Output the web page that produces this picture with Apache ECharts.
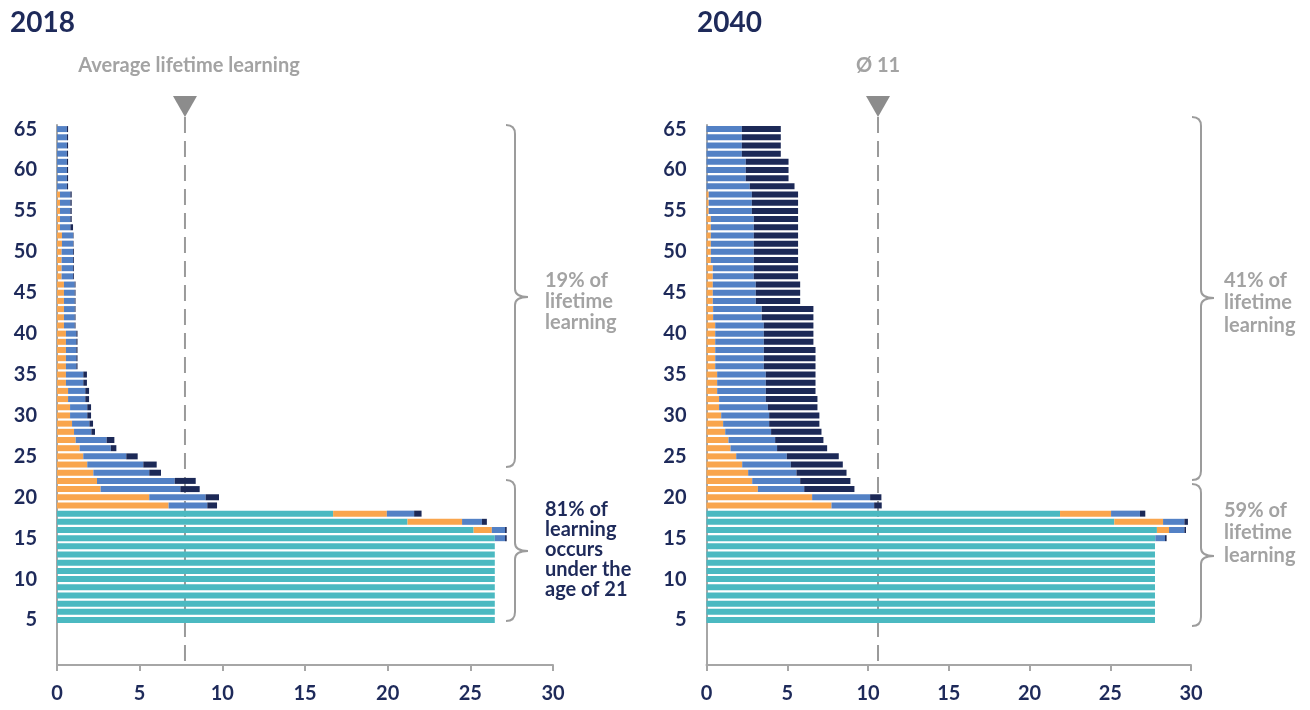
<!DOCTYPE html>
<html><head><meta charset="utf-8">
<script src="https://cdn.jsdelivr.net/npm/echarts@6/dist/echarts.min.js"></script>
<style>html,body{margin:0;padding:0;background:#fff}#c{width:1310px;height:710px}</style>
</head><body><div id="c"></div>
<script>
// ---------------- DATA ----------------
const emptyAges = ['0','1','2','3','4'];
const ages = ['5','6','7','8','9','10','11','12','13','14','15','16','17','18','19','20',
  '21','22','23','24','25','26','27','28','29','30','31','32','33','34','35','36','37','38','39','40',
  '41','42','43','44','45','46','47','48','49','50','51','52','53','54','55','56','57','58','59','60',
  '61','62','63','64','65'];
const yTickLabels = ['5','10','15','20','25','30','35','40','45','50','55','60','65'];
const xTickLabels = [0,5,10,15,20,25,30];

// 2018 segment lengths, ages 5..65
const teal2018 = [26.48,26.48,26.48,26.48,26.48,26.48,26.48,26.48,26.48,26.48,
  26.48,25.2,21.2,16.7,
  0,0,0,0,0,0,0,0,0,0,0,0,0,0,0,0,0,0,0,0,0,0,0,0,0,0,0,0,0,0,0,0,0,0,0,0,0,0,0,0,0,0,0,0,0,0,0];
const orange2018 = [0,0,0,0,0,0,0,0,0,0,
  0,1.1,3.3,3.25,6.75,5.58,2.64,2.42,2.2,1.83,1.59,1.37,1.13,1.03,0.91,0.79,0.79,0.67,0.67,0.54,0.54,
  0.54,0.54,0.54,0.54,0.54,
  0.42,0.42,0.42,0.42,0.42,0.42,
  0.28,0.28,0.28,0.28,
  0.3,0.3,
  0.18,
  0.18,0.18,0.18,0.18,
  0,0,0,0,0,0,0,0];
const blue2018 = [0,0,0,0,0,0,0,0,0,0,
  0.62,0.8,1.2,1.65,2.34,3.41,4.82,4.7,3.38,3.39,2.6,1.88,1.87,1.05,1.05,1.04,1.04,1.04,1.04,1.05,1.05,
  0.63,0.63,0.63,0.63,0.63,
  0.65,0.65,0.65,0.65,0.65,0.65,
  0.69,0.69,0.69,0.69,
  0.67,0.67,
  0.63,
  0.63,0.63,0.63,0.63,
  0.6,0.6,0.6,0.6,0.6,0.6,0.6,0.6];
const navy2018 = [0,0,0,0,0,0,0,0,0,0,
  0.1,0.1,0.3,0.45,0.59,0.81,1.17,1.27,0.71,0.81,0.69,0.34,0.47,0.22,0.22,0.23,0.23,0.23,0.23,0.22,0.22,
  0.07,0.07,0.07,0.07,0.07,
  0.05,0.05,0.05,0.05,0.05,0.05,
  0.05,0.05,0.05,0.05,
  0.03,0.03,
  0.16,
  0.08,0.08,0.08,0.08,
  0.07,0.07,0.07,0.07,0.07,0.07,0.07,0.07];

// 2040 segment lengths, ages 5..65
const teal2040 = [27.77,27.77,27.77,27.77,27.77,27.77,27.77,27.77,27.77,27.77,
  27.79,27.89,25.25,21.89,
  0,0,0,0,0,0,0,0,0,0,0,0,0,0,0,0,0,0,0,0,0,0,0,0,0,0,0,0,0,0,0,0,0,0,0,0,0,0,0,0,0,0,0,0,0,0,0];
const orange2040 = [0,0,0,0,0,0,0,0,0,0,
  0,0.75,3.02,3.16,7.74,6.54,3.18,2.83,2.58,2.21,1.84,1.49,1.36,1.16,1.03,0.91,0.78,0.78,0.66,0.66,0.66,
  0.54,0.54,0.54,0.54,0.54,0.54,0.41,0.41,0.39,0.39,0.39,0.39,0.39,
  0.27,0.27,0.27,0.27,0.27,0.27,
  0.14,0.14,0.14,
  0,0,0,0,0,0,0,0];
const blue2040 = [0,0,0,0,0,0,0,0,0,0,
  0.6,0.95,1.32,1.79,2.64,3.59,2.87,2.97,2.99,3.01,3.13,2.88,2.89,2.84,2.85,2.97,3.02,2.89,3.01,3.01,3.01,
  3.01,3.01,3.01,3.01,3.01,3.01,3.01,3.01,
  2.66,2.66,2.66,
  2.54,2.54,
  2.66,2.66,2.66,2.66,2.66,2.66,
  2.67,2.67,2.67,
  2.68,
  2.43,2.43,2.43,
  2.19,2.19,2.19,2.19];
const navy2040 = [0,0,0,0,0,0,0,0,0,0,
  0.1,0.1,0.22,0.33,0.47,0.7,3.11,3.11,3.1,3.22,3.22,3.1,2.99,3.12,3.11,3.11,3.07,3.2,3.08,3.08,3.08,
  3.2,3.2,3.2,3.07,3.07,3.07,3.2,3.2,
  2.75,2.75,2.75,
  2.74,2.74,
  2.74,2.74,2.74,2.74,2.74,2.74,
  2.86,2.86,2.86,
  2.77,
  2.65,2.65,2.65,
  2.41,2.41,2.41,2.41];

const avg2018 = 7.74;
const avg2040 = 10.62;

// ---------------- STYLE ----------------
const FONT = 'Lato, "Open Sans", sans-serif';
const NAVY = '#1E2A5A';
const GRAY_TXT = '#A3A3A3';
const AXIS = '#A6A6A6';
const C_TEAL = '#4BB9C1', C_ORANGE = '#F9A54D', C_BLUE = '#5381C5', C_NAVY = '#1C2957';

const categories = emptyAges.concat(ages);
const pad = v => emptyAges.map(() => null).concat(v);

function xAx(g){
  return {gridIndex:g, type:'value', min:0, max:30, interval:5,
    axisLine:{show:true, lineStyle:{color:AXIS, width:2}},
    axisTick:{show:true, length:6, lineStyle:{color:AXIS, width:2}},
    splitLine:{show:false},
    axisLabel:{color:NAVY, fontSize:20, fontWeight:'bold', fontFamily:FONT, margin:19,
      formatter: v => xTickLabels.indexOf(v) >= 0 ? String(v) : ''}};
}
function yAx(g){
  return {gridIndex:g, type:'category', data:categories,
    axisLine:{show:true, onZero:false, lineStyle:{color:AXIS, width:2}},
    axisTick:{show:false},
    splitLine:{show:false},
    axisLabel:{interval:0, color:NAVY, fontSize:20, fontWeight:'bold', fontFamily:FONT, margin:20,
      formatter: v => yTickLabels.indexOf(v) >= 0 ? v : ''}};
}
function bar(g, name, data, color){
  return {type:'bar', name, xAxisIndex:g, yAxisIndex:g, stack:'s'+g, data:pad(data),
    barWidth:6, silent:true, itemStyle:{color}};
}

const chart = echarts.init(document.getElementById('c'), null, {renderer:'canvas'});
chart.setOption({
  animation:false,
  grid:[{left:57, width:496, top:125, height:540}, {left:706.5, width:484.5, top:125, height:540}],
  xAxis:[xAx(0), xAx(1)],
  yAxis:[yAx(0), yAx(1)],
  series:[
    bar(0,'teal',teal2018,C_TEAL), bar(0,'orange',orange2018,C_ORANGE), bar(0,'blue',blue2018,C_BLUE), bar(0,'navy',navy2018,C_NAVY),
    bar(1,'teal',teal2040,C_TEAL), bar(1,'orange',orange2040,C_ORANGE), bar(1,'blue',blue2040,C_BLUE), bar(1,'navy',navy2040,C_NAVY)
  ]
});

// ---------------- ANNOTATIONS ----------------
const BR = '#9C9C9C';
function qc(x1, y1, cx, cy, x2, y2){
  return {type:'bezierCurve', silent:true, shape:{x1, y1, cpx1:cx, cpy1:cy, x2, y2},
    style:{stroke:BR, lineWidth:2, fill:null}};
}
function ln(x1, y1, x2, y2, extra){
  return {type:'line', silent:true, shape:{x1, y1, x2, y2},
    style:Object.assign({stroke:BR, lineWidth:2}, extra||{})};
}
function brace(x, y1, y2, ym){
  const c = 9, t = 13;
  return [
    qc(x-c, y1, x, y1, x, y1+9),
    ln(x, y1+9, x, ym-8),
    qc(x, ym-8, x, ym, x+t, ym),
    qc(x+t, ym, x, ym, x, ym+8),
    ln(x, ym+8, x, y2-9),
    qc(x, y2-9, x, y2, x-c, y2)
  ];
}
function txt(text, x, y, fill, size, lh, align){
  return {type:'text', silent:true, style:{text, x, y, fill, fontSize:size, fontWeight:'bold',
    fontFamily:FONT, lineHeight:lh, textAlign:align||'left', textVerticalAlign:'top'}};
}
const bottomY = 665;
const xa = chart.convertToPixel({xAxisIndex:0}, avg2018);
const xb = chart.convertToPixel({xAxisIndex:1}, avg2040);
function avgMarker(x){
  return [
    ln(x, 117, x, bottomY, {stroke:'#9A9A9A', lineDash:[16,8]}),
    {type:'polygon', silent:true, shape:{points:[[x-12,96],[x+12,96],[x,117]]}, style:{fill:'#8C8C8C'}}
  ];
}
chart.setOption({graphic:[
  txt('2018', 10, 8, NAVY, 28, 30),
  txt('2040', 697, 8, NAVY, 28, 30),
  txt('Average lifetime learning', xa+4, 54, GRAY_TXT, 20, 24, 'center'),
  txt('Ø 11', xb, 54, GRAY_TXT, 20, 24, 'center'),
  ...avgMarker(xa), ...avgMarker(xb),
  ...brace(515, 125, 467, 297),
  ...brace(515, 480, 621, 551),
  ...brace(1201, 117, 480, 298),
  ...brace(1201, 484, 626, 556),
  txt('19% of\nlifetime\nlearning', 545, 270, GRAY_TXT, 20, 21),
  txt('81% of\nlearning\noccurs\nunder the\nage of 21', 545, 500, NAVY, 20, 20),
  txt('41% of\nlifetime\nlearning', 1224, 269, GRAY_TXT, 20, 22.5),
  txt('59% of\nlifetime\nlearning', 1224, 499, GRAY_TXT, 20, 22.5)
]});
</script></body></html>
